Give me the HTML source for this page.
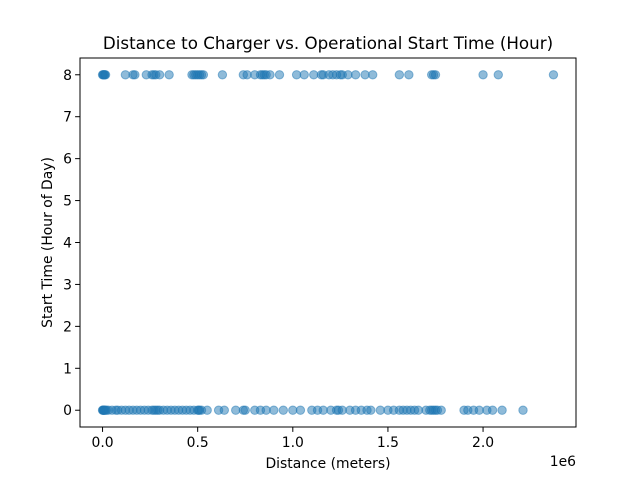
<!DOCTYPE html>
<html><head><meta charset="utf-8"><style>
body{margin:0;background:#fff;}
svg{display:block;font-family:"DejaVu Sans","Liberation Sans",sans-serif;}
</style></head><body>
<svg id="chart" width="640" height="480"></svg>
<script>
const startHours=[0,8];
const dist8=[0.0,0.003,0.005,0.01,0.012,0.016,0.12,0.16,0.17,0.23,0.26,0.27,0.28,0.3,0.35,0.47,0.48,0.49,0.5,0.51,0.52,0.53,0.63,0.74,0.76,0.8,0.83,0.84,0.85,0.86,0.88,0.93,1.02,1.06,1.11,1.15,1.16,1.19,1.21,1.23,1.25,1.26,1.29,1.33,1.38,1.42,1.56,1.61,1.73,1.74,1.75,2.0,2.08,2.37];
const dist0=[0.0,0.002,0.004,0.006,0.008,0.01,0.015,0.02,0.03,0.05,0.07,0.08,0.1,0.12,0.14,0.16,0.18,0.2,0.22,0.24,0.26,0.27,0.28,0.29,0.3,0.32,0.34,0.36,0.38,0.4,0.42,0.44,0.46,0.48,0.5,0.505,0.51,0.52,0.55,0.61,0.64,0.7,0.74,0.75,0.8,0.83,0.86,0.9,0.95,1.0,1.04,1.1,1.13,1.16,1.2,1.23,1.24,1.26,1.3,1.33,1.36,1.39,1.41,1.46,1.5,1.53,1.56,1.58,1.6,1.62,1.64,1.66,1.7,1.72,1.73,1.74,1.75,1.76,1.78,1.9,1.92,1.95,1.98,2.02,2.05,2.1,2.21];
const xTicks=[0,0.5,1.0,1.5,2.0];
const xTickLabels=["0.0","0.5","1.0","1.5","2.0"];
const yTicks=[0,1,2,3,4,5,6,7,8];

const L=80,R=576,T=58,B=427;
const xmin=-0.1185,xmax=2.4885,ymin=-0.4,ymax=8.4;
const xs=v=>L+(v-xmin)/(xmax-xmin)*(R-L);
const ys=v=>B-(v-ymin)/(ymax-ymin)*(B-T);
const svg=document.getElementById('chart');
const NS='http://www.w3.org/2000/svg';
function mk(tag,attrs,txt){const e=document.createElementNS(NS,tag);for(const k in attrs)e.setAttribute(k,attrs[k]);if(txt!==undefined)e.textContent=txt;svg.appendChild(e);return e;}

const pts=[[dist0,startHours[0]],[dist8,startHours[1]]];
pts.forEach(([arr,h])=>arr.forEach(d=>{
  const c=mk('circle',{cx:xs(d),cy:ys(h),r:4.2,fill:'#1f77b4','fill-opacity':0.5,stroke:'#1f77b4','stroke-opacity':0.5,'stroke-width':1});
  
  
}));

const frame=mk('rect',{x:L,y:T,width:R-L,height:B-T,fill:'none',stroke:'#000','stroke-width':1});



xTicks.forEach((t,i)=>{
  mk('line',{x1:xs(t),x2:xs(t),y1:B,y2:B+4.9,stroke:'#000','stroke-width':1});
  const tx=mk('text',{x:xs(t),y:B+20,'font-size':13.9,'text-anchor':'middle'},xTickLabels[i]);
  
  
});
yTicks.forEach(t=>{
  mk('line',{x1:L,x2:L-4.9,y1:ys(t),y2:ys(t),stroke:'#000','stroke-width':1});
  const tx=mk('text',{x:L-8,y:ys(t)+5,'font-size':13.9,'text-anchor':'end'},String(t));
  
  
});
const title=mk('text',{x:(L+R)/2,y:49,'font-size':16.7,'text-anchor':'middle'},'Distance to Charger vs. Operational Start Time (Hour)');


const xl=mk('text',{x:(L+R)/2,y:468,'font-size':13.9,'text-anchor':'middle'},'Distance (meters)');


const off=mk('text',{x:576,y:466,'font-size':13.9,'text-anchor':'end'},'1e6');


const yl=mk('text',{x:52,y:(T+B)/2,'font-size':13.9,'text-anchor':'middle',transform:`rotate(-90 52 ${(T+B)/2})`},'Start Time (Hour of Day)');


</script>
</body></html>
